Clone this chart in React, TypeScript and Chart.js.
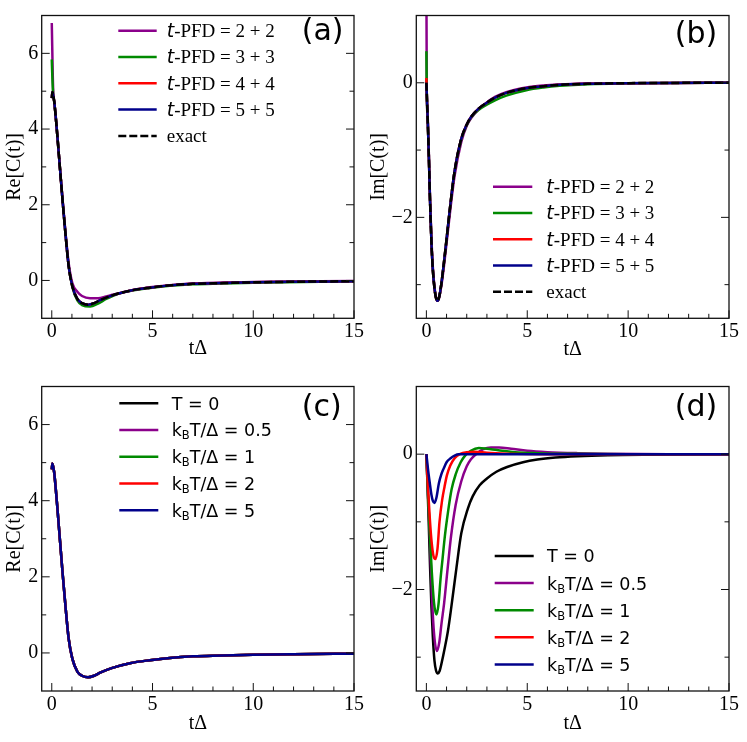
import { useEffect, useRef } from "react"
import { Chart, registerables } from "chart.js"

Chart.register(...registerables)

// ---- axis ticks ----
const tTicks = [0, 5, 10, 15]
const tMinor = [1, 2, 3, 4, 6, 7, 8, 9, 11, 12, 13, 14]
const reTicks = [0, 2, 4, 6]
const reMinor = [1, 3, 5]
const imTicks = [-2, 0]
const imMinor = [-3, -1]

// ---- (a)/(c) real part ----
const reExactT = [0, 0.03, 0.12, 0.2, 0.28, 0.41, 0.54, 0.68, 0.84, 1.02, 1.27, 1.5, 1.8, 2.1, 2.4, 2.97, 3.88, 4.87, 5.86, 7, 8.5, 10, 12, 15]
const reExactY = [4.82, 4.98, 4.74, 4.3, 3.8, 2.94, 2.08, 1.23, 0.37, -0.15, -0.49, -0.6, -0.64, -0.6, -0.52, -0.4, -0.27, -0.19, -0.13, -0.09, -0.07, -0.05, -0.035, -0.02]
const rePfd2T = [0, 0.025, 0.05, 0.08, 0.12, 0.2, 0.28, 0.41, 0.54, 0.68, 0.84, 1.02, 1.27, 1.5, 1.9, 2.3, 2.7, 3.0, 3.88, 4.87, 7, 10, 15]
const rePfd2Y = [6.8, 6.1, 5.4, 4.9, 4.72, 4.3, 3.8, 2.95, 2.12, 1.28, 0.45, -0.07, -0.3, -0.41, -0.47, -0.47, -0.42, -0.38, -0.27, -0.18, -0.08, -0.04, -0.015]
const rePfd3T = [0, 0.03, 0.07, 0.12, 0.2, 0.28, 0.41, 0.54, 0.68, 0.84, 1.02, 1.27, 1.5, 1.9, 2.3, 2.7, 3.2, 3.88, 4.87, 5.86, 7, 8.5, 10, 15]
const rePfd3Y = [5.84, 5.35, 4.9, 4.72, 4.3, 3.8, 2.94, 2.08, 1.23, 0.37, -0.17, -0.53, -0.65, -0.69, -0.61, -0.49, -0.37, -0.28, -0.2, -0.14, -0.1, -0.08, -0.06, -0.02]

// ---- (b) imaginary part, t-PFD ----
const imExactT = [0, 0.06, 0.12, 0.18, 0.25, 0.32, 0.4, 0.48, 0.56, 0.65, 0.75, 0.86, 1.02, 1.2, 1.4, 1.73, 2.0, 2.23, 2.6, 2.97, 3.4, 3.96, 4.95, 5.8, 6.6, 8, 10, 12, 15]
const imExactY = [0, -0.5, -1.07, -1.75, -2.37, -2.78, -3.05, -3.2, -3.24, -3.16, -2.97, -2.7, -2.27, -1.78, -1.31, -0.83, -0.62, -0.5, -0.38, -0.3, -0.22, -0.15, -0.08, -0.05, -0.03, -0.015, -0.006, -0.002, 0]
const imPfdT = [0, 0.02, 0.06, 0.12, 0.18, 0.25, 0.32, 0.4, 0.48, 0.56, 0.65, 0.75, 0.86, 1.02, 1.2, 1.4, 1.73, 2.0, 2.23, 2.6, 2.97, 3.4, 3.96, 4.95, 5.8, 6.6, 8, 10, 12, 15]
const imPfd2Y = [1.6, -0.15, -0.48, -1.03, -1.7, -2.32, -2.74, -3.03, -3.19, -3.24, -3.17, -3.0, -2.75, -2.33, -1.85, -1.38, -0.88, -0.64, -0.52, -0.39, -0.3, -0.21, -0.14, -0.07, -0.04, -0.025, -0.012, -0.005, -0.002, 0]
const imPfd3Y = [0.47, -0.15, -0.5, -1.07, -1.75, -2.37, -2.78, -3.05, -3.2, -3.24, -3.16, -2.97, -2.7, -2.27, -1.78, -1.31, -0.84, -0.63, -0.51, -0.4, -0.33, -0.26, -0.19, -0.11, -0.07, -0.045, -0.02, -0.008, -0.003, 0]
const imPfd4Y = [0.07, -0.17, -0.5, -1.07, -1.75, -2.37, -2.78, -3.05, -3.2, -3.24, -3.16, -2.97, -2.7, -2.27, -1.78, -1.31, -0.83, -0.62, -0.5, -0.38, -0.3, -0.22, -0.15, -0.08, -0.05, -0.03, -0.015, -0.006, -0.002, 0]

// ---- (d) imaginary part, temperatures ----
const dT0T = [0, 0.06, 0.12, 0.18, 0.25, 0.32, 0.4, 0.48, 0.57, 0.66, 0.76, 0.9, 1.07, 1.24, 1.49, 1.73, 2.06, 2.3, 2.64, 3.0, 3.47, 4.0, 4.79, 5.5, 6.4, 7.5, 9, 11, 15]
const dT0Y = [0, -0.5, -1.05, -1.65, -2.25, -2.7, -3.05, -3.2, -3.24, -3.2, -3.08, -2.88, -2.61, -2.25, -1.68, -1.17, -0.8, -0.62, -0.46, -0.36, -0.26, -0.19, -0.12, -0.08, -0.05, -0.03, -0.015, -0.007, 0]
const dK05T = [0, 0.08, 0.17, 0.28, 0.38, 0.52, 0.64, 0.75, 0.88, 1.05, 1.22, 1.45, 1.73, 2.0, 2.2, 2.5, 2.8, 3.2, 3.6, 4.2, 5, 6, 7.5, 9, 12, 15]
const dK05Y = [0, -0.6, -1.2, -2.13, -2.65, -2.91, -2.78, -2.5, -2.2, -1.7, -1.22, -0.75, -0.4, -0.18, -0.08, 0.01, 0.07, 0.1, 0.1, 0.08, 0.05, 0.03, 0.015, 0.007, 0, 0]
const dK1T = [0, 0.08, 0.17, 0.27, 0.38, 0.5, 0.6, 0.7, 0.8, 0.92, 1.07, 1.25, 1.45, 1.7, 1.95, 2.2, 2.6, 3.0, 3.5, 4.4, 5.5, 7, 10, 15]
const dK1Y = [0, -0.6, -1.17, -1.75, -2.2, -2.37, -2.22, -1.85, -1.55, -1.2, -0.86, -0.52, -0.3, -0.12, -0.01, 0.05, 0.09, 0.08, 0.06, 0.03, 0.015, 0.005, 0, 0]
const dK2T = [0, 0.08, 0.17, 0.26, 0.35, 0.45, 0.55, 0.65, 0.78, 0.9, 1.02, 1.18, 1.4, 1.65, 2.0, 2.4, 3.0, 4, 6, 15]
const dK2Y = [0, -0.5, -0.95, -1.3, -1.5, -1.55, -1.4, -1.0, -0.68, -0.48, -0.31, -0.17, -0.06, 0, 0.03, 0.035, 0.02, 0.008, 0, 0]
const dK5T = [0, 0.08, 0.17, 0.25, 0.32, 0.4, 0.5, 0.62, 0.74, 0.86, 1.0, 1.2, 1.4, 1.6, 2, 3, 15]
const dK5Y = [0, -0.22, -0.43, -0.6, -0.69, -0.72, -0.64, -0.43, -0.3, -0.21, -0.12, -0.06, -0.02, 0, 0, 0, 0]

// ---- legend texts ----
const pfdOrders = ["2 + 2", "3 + 3", "4 + 4", "5 + 5"]
const kbtValues = ["0.5", "1", "2", "5"]

const PURPLE = "#8b008b"
const GREEN = "#008a00"
const RED = "#ff0000"
const BLUE = "#00008b"
const BLACK = "#000000"
const DASH = [8, 3]

const SERIF = '"Liberation Serif", "DejaVu Serif", serif'
const SANS = '"DejaVu Sans", sans-serif'
const serif19 = `19px ${SERIF}`
const sans = (px: number) => `${px}px ${SANS}`
const AXIS_PX = 20

type Part = { text: string; font: string; sub?: boolean }
type LegendItem = { color: string; dash?: number[]; parts: Part[] }

const pfdLegend: LegendItem[] = [
  ...pfdOrders.map((o, i) => ({
    color: [PURPLE, GREEN, RED, BLUE][i],
    parts: [
      { text: "t", font: `italic 19px ${SANS}` },
      { text: `-PFD = ${o}`, font: serif19 },
    ],
  })),
  { color: BLACK, dash: DASH, parts: [{ text: "exact", font: serif19 }] },
]

const kbtLegend: LegendItem[] = [
  { color: BLACK, parts: [{ text: "T = 0", font: sans(17.5) }] },
  ...kbtValues.map((v, i) => ({
    color: [PURPLE, GREEN, RED, BLUE][i],
    parts: [
      { text: "k", font: sans(17.5) },
      { text: "B", font: sans(11.5), sub: true },
      { text: `T/Δ = ${v}`, font: sans(17.5) },
    ],
  })),
]

const zip = (t: number[], y: number[]) => t.map((x, i) => ({ x, y: y[i] }))

function series(t: number[], y: number[], color: string, order: number, dash?: number[]) {
  return {
    data: zip(t, y),
    borderColor: color,
    backgroundColor: color,
    borderWidth: 2.5,
    borderDash: dash ?? [],
    pointRadius: 0,
    showLine: true,
    fill: false,
    cubicInterpolationMode: "monotone",
    order,
  }
}

// frame, inward ticks, legend and panel letter
const decorPlugin = {
  id: "decor",
  afterDatasetsDraw(chart: any, _args: any, opts: any) {
    const { ctx, chartArea: a, scales } = chart
    const xs = scales.x
    const ys = scales.y
    ctx.save()
    ctx.strokeStyle = "#111"
    ctx.lineWidth = 1.3
    ctx.setLineDash([])
    ctx.strokeRect(a.left, a.top, a.right - a.left, a.bottom - a.top)

    ctx.lineWidth = 1
    ctx.beginPath()
    const xTick = (v: number, len: number) => {
      const px = xs.getPixelForValue(v)
      ctx.moveTo(px, a.bottom)
      ctx.lineTo(px, a.bottom - len)
    }
    const yTick = (v: number, len: number) => {
      const py = ys.getPixelForValue(v)
      ctx.moveTo(a.left, py)
      ctx.lineTo(a.left + len, py)
      ctx.moveTo(a.right, py)
      ctx.lineTo(a.right - len, py)
    }
    opts.xMajor.forEach((v: number) => xTick(v, 8))
    opts.xMinor.forEach((v: number) => xTick(v, 4.5))
    opts.yMajor.forEach((v: number) => yTick(v, 8))
    opts.yMinor.forEach((v: number) => yTick(v, 4.5))
    ctx.stroke()

    // legend
    const lg = opts.legend
    ctx.textAlign = "left"
    ctx.textBaseline = "alphabetic"
    lg.items.forEach((item: LegendItem, i: number) => {
      const ry = lg.y0 + i * lg.step
      ctx.strokeStyle = item.color
      ctx.lineWidth = 2.5
      ctx.setLineDash(item.dash ?? [])
      ctx.beginPath()
      ctx.moveTo(lg.x1, ry)
      ctx.lineTo(lg.x2, ry)
      ctx.stroke()
      ctx.setLineDash([])
      ctx.fillStyle = "#000"
      let cx = lg.tx
      const base = ry + 6.4
      item.parts.forEach((p) => {
        ctx.font = p.font
        ctx.fillText(p.text, cx, p.sub ? base + 3 : base)
        cx += ctx.measureText(p.text).width
      })
    })

    // panel letter
    ctx.font = `30px ${SANS}`
    ctx.fillStyle = "#000"
    ctx.fillText(opts.letter.text, opts.letter.x, opts.letter.y + 9.5)
    ctx.restore()
  },
}

type Box = { left: number; top: number; width: number; height: number }
type Area = { l: number; t: number; r: number; b: number }

interface PanelProps {
  box: Box
  area: Area
  datasets: any[]
  yMin: number
  yMax: number
  yMajor: number[]
  yMinor: number[]
  yTitle: string
  yTitleX: number
  xTitleY: number
  legend: { items: LegendItem[]; x1: number; x2: number; tx: number; y0: number; step: number }
  letter: { text: string; x: number; y: number }
}

function Panel(p: PanelProps) {
  const canvasRef = useRef<HTMLCanvasElement>(null)
  const chartInstance = useRef<Chart | null>(null)

  useEffect(() => {
    if (!canvasRef.current) return
    if (chartInstance.current) chartInstance.current.destroy()
    const ctx = canvasRef.current.getContext("2d")
    if (!ctx) return

    const { box, area } = p
    const half = (AXIS_PX * 1.2) / 2
    const axisFont = { family: SERIF, size: AXIS_PX, lineHeight: 1.2 }

    chartInstance.current = new Chart(ctx, {
      type: "scatter",
      data: { datasets: p.datasets },
      plugins: [decorPlugin],
      options: {
        responsive: true,
        maintainAspectRatio: false,
        animation: false,
        events: [],
        layout: {
          padding: {
            left: 0,
            bottom: 0,
            top: area.t - box.top,
            right: box.left + box.width - area.r,
          },
        },
        plugins: {
          legend: { display: false },
          tooltip: { enabled: false },
          decor: {
            xMajor: tTicks,
            xMinor: tMinor,
            yMajor: p.yMajor,
            yMinor: p.yMinor,
            legend: {
              items: p.legend.items,
              x1: p.legend.x1 - box.left,
              x2: p.legend.x2 - box.left,
              tx: p.legend.tx - box.left,
              y0: p.legend.y0 - box.top,
              step: p.legend.step,
            },
            letter: { text: p.letter.text, x: p.letter.x - box.left, y: p.letter.y - box.top },
          },
        } as any,
        scales: {
          x: {
            type: "linear",
            min: -0.5,
            max: 15,
            grid: { display: false, drawTicks: false },
            border: { display: false },
            afterBuildTicks: (s: any) => {
              s.ticks = tTicks.map((v) => ({ value: v }))
            },
            afterFit: (s: any) => {
              s.height = box.top + box.height - area.b
            },
            ticks: { font: axisFont, color: "#000", padding: 1.5, maxRotation: 0, autoSkip: false },
            title: {
              display: true,
              text: "tΔ",
              font: axisFont,
              color: "#000",
              padding: { top: 0, bottom: box.top + box.height - p.xTitleY - half },
            },
          },
          y: {
            type: "linear",
            min: p.yMin,
            max: p.yMax,
            grid: { display: false, drawTicks: false },
            border: { display: false },
            afterBuildTicks: (s: any) => {
              s.ticks = p.yMajor.map((v) => ({ value: v }))
            },
            afterFit: (s: any) => {
              s.width = area.l - box.left
            },
            ticks: {
              font: axisFont,
              color: "#000",
              padding: 3.5,
              autoSkip: false,
              callback: (v: any) => (Number(v) < 0 ? "\u2212" + Math.abs(Number(v)) : String(v)),
            },
            title: {
              display: true,
              text: p.yTitle,
              font: axisFont,
              color: "#000",
              padding: { top: p.yTitleX - box.left - half, bottom: 0 },
            },
          },
        },
      } as any,
    })

    return () => {
      if (chartInstance.current) {
        chartInstance.current.destroy()
        chartInstance.current = null
      }
    }
  }, [])

  return (
    <div
      style={{
        position: "absolute",
        left: p.box.left,
        top: p.box.top,
        width: p.box.width,
        height: p.box.height,
      }}
    >
      <canvas ref={canvasRef} />
    </div>
  )
}

export default function App() {
  useEffect(() => {
    document.body.style.margin = "0"
  }, [])

  const reAll = [BLUE, RED, GREEN, PURPLE, BLACK].map((c, i) => series(reExactT, reExactY, c, i))

  return (
    <div style={{ position: "absolute", left: 0, top: 0, width: 747, height: 742, background: "#fff" }}>
      <Panel
        box={{ left: 0, top: 0, width: 373, height: 371 }}
        area={{ l: 41.7, t: 7.3, r: 354, b: 318.3 }}
        datasets={[
          series(reExactT, reExactY, BLACK, 0, DASH),
          series(reExactT, reExactY, BLUE, 1),
          series(reExactT, reExactY, RED, 2),
          series(rePfd3T, rePfd3Y, GREEN, 3),
          series(rePfd2T, rePfd2Y, PURPLE, 4),
        ]}
        yMin={-1}
        yMax={7}
        yMajor={reTicks}
        yMinor={reMinor}
        yTitle="Re[C(t)]"
        yTitleX={15}
        xTitleY={348.5}
        legend={{ items: pfdLegend, x1: 118.3, x2: 156.7, tx: 166.7, y0: 30.7, step: 26.3 }}
        letter={{ text: "(a)", x: 301.7, y: 30.8 }}
      />
      <Panel
        box={{ left: 360, top: 0, width: 387, height: 371 }}
        area={{ l: 416.3, t: 7, r: 729, b: 318.3 }}
        datasets={[
          series(imExactT, imExactY, BLACK, 0, DASH),
          series(imExactT, imExactY, BLUE, 1),
          series(imPfdT, imPfd4Y, RED, 2),
          series(imPfdT, imPfd3Y, GREEN, 3),
          series(imPfdT, imPfd2Y, PURPLE, 4),
        ]}
        yMin={-3.5}
        yMax={1}
        yMajor={imTicks}
        yMinor={imMinor}
        yTitle="Im[C(t)]"
        yTitleX={379}
        xTitleY={349.5}
        legend={{ items: pfdLegend, x1: 493, x2: 532.3, tx: 546.3, y0: 186.7, step: 26.25 }}
        letter={{ text: "(b)", x: 674.7, y: 33 }}
      />
      <Panel
        box={{ left: 0, top: 371, width: 373, height: 371 }}
        area={{ l: 41.7, t: 380.3, r: 354, b: 691 }}
        datasets={reAll}
        yMin={-1}
        yMax={7}
        yMajor={reTicks}
        yMinor={reMinor}
        yTitle="Re[C(t)]"
        yTitleX={15}
        xTitleY={723.5}
        legend={{ items: kbtLegend, x1: 119.3, x2: 158.3, tx: 171.7, y0: 403.3, step: 26.75 }}
        letter={{ text: "(c)", x: 301.7, y: 406 }}
      />
      <Panel
        box={{ left: 360, top: 371, width: 387, height: 371 }}
        area={{ l: 416.3, t: 380.3, r: 729, b: 691 }}
        datasets={[
          series(dK5T, dK5Y, BLUE, 0),
          series(dK2T, dK2Y, RED, 1),
          series(dK1T, dK1Y, GREEN, 2),
          series(dK05T, dK05Y, PURPLE, 3),
          series(dT0T, dT0Y, BLACK, 4),
        ]}
        yMin={-3.5}
        yMax={1}
        yMajor={imTicks}
        yMinor={imMinor}
        yTitle="Im[C(t)]"
        yTitleX={379}
        xTitleY={724}
        legend={{ items: kbtLegend, x1: 494.7, x2: 533.7, tx: 547, y0: 556, step: 27.1 }}
        letter={{ text: "(d)", x: 674.7, y: 406 }}
      />
    </div>
  )
}
